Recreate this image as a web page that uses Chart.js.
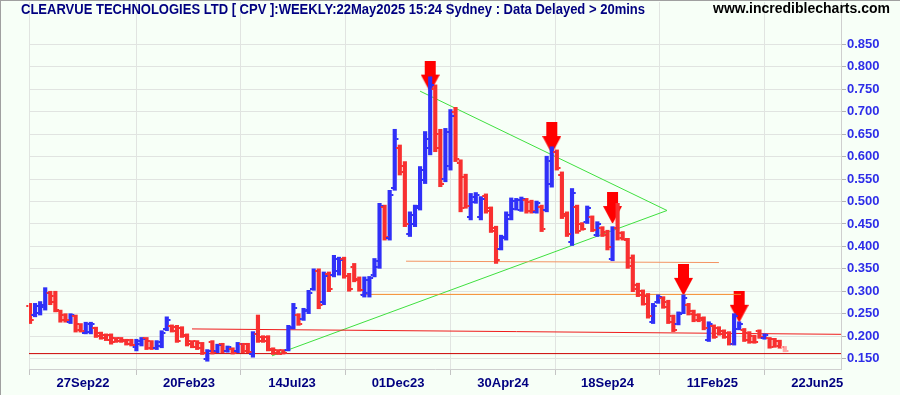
<!DOCTYPE html>
<html>
<head>
<meta charset="utf-8">
<script src="https://cdn.jsdelivr.net/npm/chart.js@4.4.1/dist/chart.umd.min.js"></script>
<style>
  body { margin: 0; background: #f7fff7; }
  #wrap { position: relative; width: 900px; height: 395px; }
  #title, #site { position: absolute; white-space: nowrap; font-family: "Liberation Sans", Arial, sans-serif; font-weight: bold; transform-origin: 0 0; line-height: 16px; }
  #title { left: 21px; top: 1px; font-size: 14px; color: #000080; }
  #site { left: 713px; top: 0px; font-size: 14px; color: #000; }
</style>
</head>
<body>
<div id="wrap">
  <canvas id="stockChart" width="900" height="395"></canvas>
  <div id="title">CLEARVUE TECHNOLOGIES LTD [ CPV ]:WEEKLY:22May2025 15:24 Sydney : Data Delayed &gt; 20mins</div>
  <div id="site">www.incrediblecharts.com</div>
</div>
<script>
// weekly bars, oldest first (Jul 2022 .. 22 May 2025)
const highs = [
  0.273, 0.273, 0.277, 0.308, 0.300, 0.300, 0.258, 0.250, 0.250, 0.247,
  0.228, 0.231, 0.231, 0.220, 0.209, 0.205, 0.205, 0.197, 0.197, 0.193,
  0.193, 0.193, 0.197, 0.197, 0.190, 0.190, 0.212, 0.243, 0.225, 0.224,
  0.221, 0.205, 0.190, 0.190, 0.186, 0.170, 0.190, 0.182, 0.184, 0.178,
  0.174, 0.186, 0.184, 0.184, 0.210, 0.247, 0.201, 0.201, 0.174, 0.170,
  0.170, 0.224, 0.273, 0.250, 0.262, 0.302, 0.350, 0.350, 0.343, 0.343,
  0.380, 0.376, 0.376, 0.340, 0.362, 0.332, 0.332, 0.333, 0.373, 0.496,
  0.492, 0.525, 0.661, 0.626, 0.589, 0.477, 0.492, 0.578, 0.656, 0.778,
  0.760, 0.661, 0.663, 0.705, 0.710, 0.593, 0.561, 0.518, 0.520, 0.511,
  0.517, 0.488, 0.445, 0.425, 0.477, 0.508, 0.507, 0.510, 0.507, 0.503,
  0.501, 0.492, 0.601, 0.622, 0.615, 0.566, 0.477, 0.529, 0.492, 0.453,
  0.490, 0.468, 0.455, 0.444, 0.436, 0.444, 0.496, 0.433, 0.418, 0.381,
  0.318, 0.303, 0.295, 0.273, 0.292, 0.288, 0.280, 0.247, 0.254, 0.292,
  0.273, 0.258, 0.250, 0.243, 0.232, 0.225, 0.221, 0.214, 0.210, 0.250,
  0.232, 0.217, 0.210, 0.202, 0.214, 0.205, 0.197, 0.195, 0.191, 0.177
];
const lows = [
  0.228, 0.243, 0.247, 0.258, 0.270, 0.254, 0.231, 0.231, 0.228, 0.209,
  0.209, 0.205, 0.205, 0.197, 0.193, 0.190, 0.182, 0.186, 0.186, 0.180,
  0.178, 0.167, 0.178, 0.170, 0.170, 0.170, 0.174, 0.212, 0.209, 0.186,
  0.197, 0.178, 0.174, 0.170, 0.159, 0.144, 0.160, 0.163, 0.163, 0.164,
  0.160, 0.163, 0.163, 0.163, 0.153, 0.186, 0.186, 0.167, 0.159, 0.159,
  0.160, 0.167, 0.216, 0.224, 0.235, 0.250, 0.302, 0.261, 0.270, 0.299,
  0.332, 0.336, 0.329, 0.300, 0.321, 0.300, 0.287, 0.287, 0.332, 0.351,
  0.414, 0.414, 0.525, 0.559, 0.444, 0.422, 0.444, 0.481, 0.540, 0.604,
  0.611, 0.533, 0.544, 0.570, 0.589, 0.477, 0.485, 0.459, 0.496, 0.459,
  0.474, 0.431, 0.362, 0.392, 0.414, 0.459, 0.481, 0.478, 0.474, 0.474,
  0.474, 0.433, 0.477, 0.532, 0.570, 0.462, 0.422, 0.402, 0.429, 0.436,
  0.451, 0.433, 0.422, 0.422, 0.392, 0.368, 0.414, 0.414, 0.351, 0.299,
  0.288, 0.269, 0.240, 0.228, 0.273, 0.262, 0.228, 0.210, 0.225, 0.250,
  0.247, 0.232, 0.232, 0.214, 0.188, 0.195, 0.202, 0.195, 0.180, 0.180,
  0.214, 0.188, 0.184, 0.184, 0.195, 0.193, 0.173, 0.175, 0.173, 0.165
];
const opens = [
  0.268, 0.248, 0.252, 0.265, 0.296, 0.290, 0.255, 0.248, 0.232, 0.245,
  0.226, 0.208, 0.210, 0.218, 0.207, 0.203, 0.202, 0.196, 0.195, 0.192,
  0.191, 0.175, 0.182, 0.195, 0.188, 0.173, 0.178, 0.215, 0.223, 0.220,
  0.218, 0.202, 0.188, 0.188, 0.184, 0.150, 0.186, 0.166, 0.182, 0.166,
  0.172, 0.166, 0.182, 0.182, 0.160, 0.205, 0.199, 0.198, 0.172, 0.168,
  0.168, 0.170, 0.220, 0.248, 0.238, 0.255, 0.305, 0.345, 0.275, 0.338,
  0.336, 0.345, 0.372, 0.335, 0.355, 0.328, 0.292, 0.295, 0.336, 0.355,
  0.488, 0.418, 0.530, 0.620, 0.580, 0.428, 0.450, 0.490, 0.548, 0.620,
  0.750, 0.650, 0.550, 0.580, 0.700, 0.585, 0.555, 0.465, 0.498, 0.465,
  0.512, 0.485, 0.440, 0.395, 0.418, 0.462, 0.484, 0.482, 0.503, 0.500,
  0.477, 0.488, 0.480, 0.540, 0.610, 0.560, 0.472, 0.410, 0.488, 0.450,
  0.455, 0.465, 0.425, 0.442, 0.432, 0.372, 0.440, 0.430, 0.414, 0.375,
  0.315, 0.300, 0.290, 0.232, 0.275, 0.285, 0.276, 0.244, 0.228, 0.252,
  0.270, 0.255, 0.248, 0.240, 0.192, 0.222, 0.219, 0.212, 0.207, 0.182,
  0.216, 0.214, 0.207, 0.200, 0.211, 0.195, 0.195, 0.193, 0.189, 0.175
];
const closes = [
  0.235, 0.268, 0.270, 0.295, 0.275, 0.258, 0.236, 0.235, 0.247, 0.214,
  0.212, 0.228, 0.226, 0.200, 0.196, 0.192, 0.186, 0.188, 0.188, 0.183,
  0.181, 0.190, 0.194, 0.173, 0.174, 0.186, 0.208, 0.235, 0.212, 0.190,
  0.200, 0.182, 0.176, 0.173, 0.162, 0.166, 0.164, 0.180, 0.166, 0.176,
  0.162, 0.183, 0.166, 0.165, 0.205, 0.190, 0.188, 0.170, 0.162, 0.161,
  0.162, 0.218, 0.262, 0.228, 0.258, 0.295, 0.345, 0.270, 0.335, 0.305,
  0.372, 0.370, 0.335, 0.306, 0.325, 0.303, 0.325, 0.330, 0.368, 0.490,
  0.420, 0.515, 0.640, 0.565, 0.450, 0.470, 0.485, 0.570, 0.640, 0.760,
  0.620, 0.540, 0.655, 0.690, 0.595, 0.485, 0.490, 0.510, 0.515, 0.505,
  0.478, 0.435, 0.370, 0.420, 0.470, 0.502, 0.503, 0.505, 0.478, 0.478,
  0.496, 0.438, 0.590, 0.610, 0.575, 0.468, 0.428, 0.520, 0.435, 0.438,
  0.485, 0.437, 0.450, 0.425, 0.398, 0.440, 0.418, 0.416, 0.356, 0.305,
  0.292, 0.272, 0.245, 0.268, 0.288, 0.265, 0.232, 0.214, 0.250, 0.285,
  0.250, 0.235, 0.235, 0.217, 0.228, 0.198, 0.204, 0.198, 0.183, 0.245,
  0.228, 0.192, 0.187, 0.186, 0.198, 0.203, 0.176, 0.178, 0.176, 0.167
];

const tickLabels = ['27Sep22', '20Feb23', '14Jul23', '01Dec23', '30Apr24', '18Sep24', '11Feb25', '22Jun25'];
const tickAt = [10.46, 31.39, 51.72, 72.65, 93.37, 114.0, 134.7, 155.4];
const priceTicks = [0.15, 0.2, 0.25, 0.3, 0.35, 0.4, 0.45, 0.5, 0.55, 0.6, 0.65, 0.7, 0.75, 0.8, 0.85];

// red "top" arrows
const arrowAt = [79, 103, 115, 129, 140];
const arrowTip = [0.745, 0.608, 0.452, 0.292, 0.232];

// hand-drawn trend lines [week, price]
const supportLine = [[-0.2, 0.161], [160.1, 0.161]];
const resistLine = [[31.98, 0.216], [160.1, 0.204]];
const orangeHigh = [[74.23, 0.367], [136.0, 0.364]];
const orangeLow = [[65.14, 0.293], [140.36, 0.293]];
const greenUpper = [[77.0, 0.746], [125.75, 0.480]];
const greenLower = [[47.77, 0.156], [125.75, 0.480]];

const BLUE = '#3030f8';
const RED = '#f83030';
const PINK = '#ffa6a6';
const GRID = '#e1e4e1';

const barColors = closes.map((c, i) => {
    if (i === closes.length - 1) return PINK;
    return c >= opens[i] ? BLUE : RED;
});

function makeArrow() {
    const c = document.createElement('canvas');
    c.width = 19;
    c.height = 62;
    const g = c.getContext('2d');
    g.fillStyle = '#ff0000';
    g.fillRect(4, 0, 11, 15);
    g.beginPath();
    g.moveTo(0, 14);
    g.lineTo(19, 14);
    g.lineTo(10, 31);
    g.lineTo(9, 31);
    g.closePath();
    g.fill();
    return c;
}

function trend(points, color) {
    return {
        type: 'line',
        data: points.map(p => ({ x: p[0], y: p[1] })),
        borderColor: color,
        borderWidth: 1,
        pointRadius: 0,
        fill: false,
        order: 2
    };
}

// background, outer frame and left edge of plot
const framePlugin = {
    id: 'frame',
    beforeDraw(chart) {
        const ctx = chart.ctx;
        const a = chart.chartArea;
        ctx.save();
        ctx.fillStyle = '#f7fff7';
        ctx.fillRect(0, 0, chart.width, chart.height);
        ctx.fillStyle = GRID;
        ctx.fillRect(a.left, a.top, 1, a.bottom - a.top);
        ctx.fillStyle = '#a0a0a0';
        ctx.fillRect(0, 0, chart.width, 1);
        ctx.fillRect(0, 0, 1, chart.height);
        ctx.restore();
    }
};

// open / close ticks on the weekly bars
const ohlcTicks = {
    id: 'ohlcTicks',
    afterDatasetsDraw(chart) {
        const ctx = chart.ctx;
        const xs = chart.scales.x, ys = chart.scales.y;
        ctx.save();
        for (let i = 0; i < opens.length; i++) {
            const px = xs.getPixelForValue(i);
            ctx.fillStyle = barColors[i];
            ctx.fillRect(px - 3.7, Math.round(ys.getPixelForValue(opens[i])) - 1, 2, 2);
            ctx.fillRect(px + 1.7, Math.round(ys.getPixelForValue(closes[i])) - 1, 2, 2);
        }
        ctx.restore();
    }
};

function noPad(s) {
    s.paddingTop = 0;
    s.paddingBottom = 0;
    s.paddingLeft = 0;
    s.paddingRight = 0;
}

const ctx = document.getElementById('stockChart').getContext('2d');
new Chart(ctx, {
    type: 'bar',
    data: {
        datasets: [
            {
                type: 'bar',
                data: highs.map((h, i) => ({ x: i, y: [lows[i], h] })),
                backgroundColor: barColors,
                borderWidth: 0,
                barThickness: 3.5,
                order: 1
            },
            trend(supportLine, '#cc0000'),
            trend(resistLine, '#f01c1c'),
            trend(orangeHigh, '#f49464'),
            trend(orangeLow, '#f5892a'),
            trend(greenUpper, '#3fe03f'),
            trend(greenLower, '#3fe03f'),
            {
                type: 'line',
                data: arrowAt.map((w, k) => ({ x: w, y: arrowTip[k] })),
                showLine: false,
                pointStyle: makeArrow(),
                pointRadius: 10,
                order: 3
            }
        ]
    },
    options: {
        responsive: false,
        animation: false,
        devicePixelRatio: 1,
        layout: { autoPadding: false, padding: { left: 29, top: 2, right: 0, bottom: 0 } },
        plugins: { legend: { display: false }, tooltip: { enabled: false } },
        scales: {
            x: {
                type: 'linear',
                min: -0.2,
                max: 160.1,
                offset: false,
                afterBuildTicks: s => { s.ticks = tickAt.map(v => ({ value: v })); },
                afterFit: s => { s.height = 26; noPad(s); },
                grid: { color: GRID, tickColor: '#c4c4c4', tickLength: 6 },
                border: { color: '#cfcfcf' },
                ticks: {
                    autoSkip: false,
                    maxRotation: 0,
                    padding: 1,
                    color: '#000080',
                    font: { family: 'Liberation Sans', size: 13, weight: 'bold' },
                    callback: (v, idx) => tickLabels[idx]
                }
            },
            y: {
                position: 'right',
                min: 0.1267,
                max: 0.9447,
                afterBuildTicks: s => { s.ticks = priceTicks.map(v => ({ value: v })); },
                afterFit: s => { s.width = 59; noPad(s); },
                grid: { color: GRID, tickColor: '#b4b4b4', tickLength: 5 },
                border: { color: '#cfcfcf' },
                ticks: {
                    padding: 1,
                    color: '#2e2ee8',
                    font: { family: 'Liberation Sans', size: 13, weight: 'bold' },
                    callback: v => v.toFixed(3)
                }
            }
        }
    },
    plugins: [framePlugin, ohlcTicks]
});

// squeeze header texts to the widths seen on the original
function fitText(id, width) {
    const el = document.getElementById(id);
    const w = el.getBoundingClientRect().width;
    el.style.transform = 'scaleX(' + (width / w) + ')';
}
fitText('title', 624);
fitText('site', 177);
</script>
</body>
</html>
